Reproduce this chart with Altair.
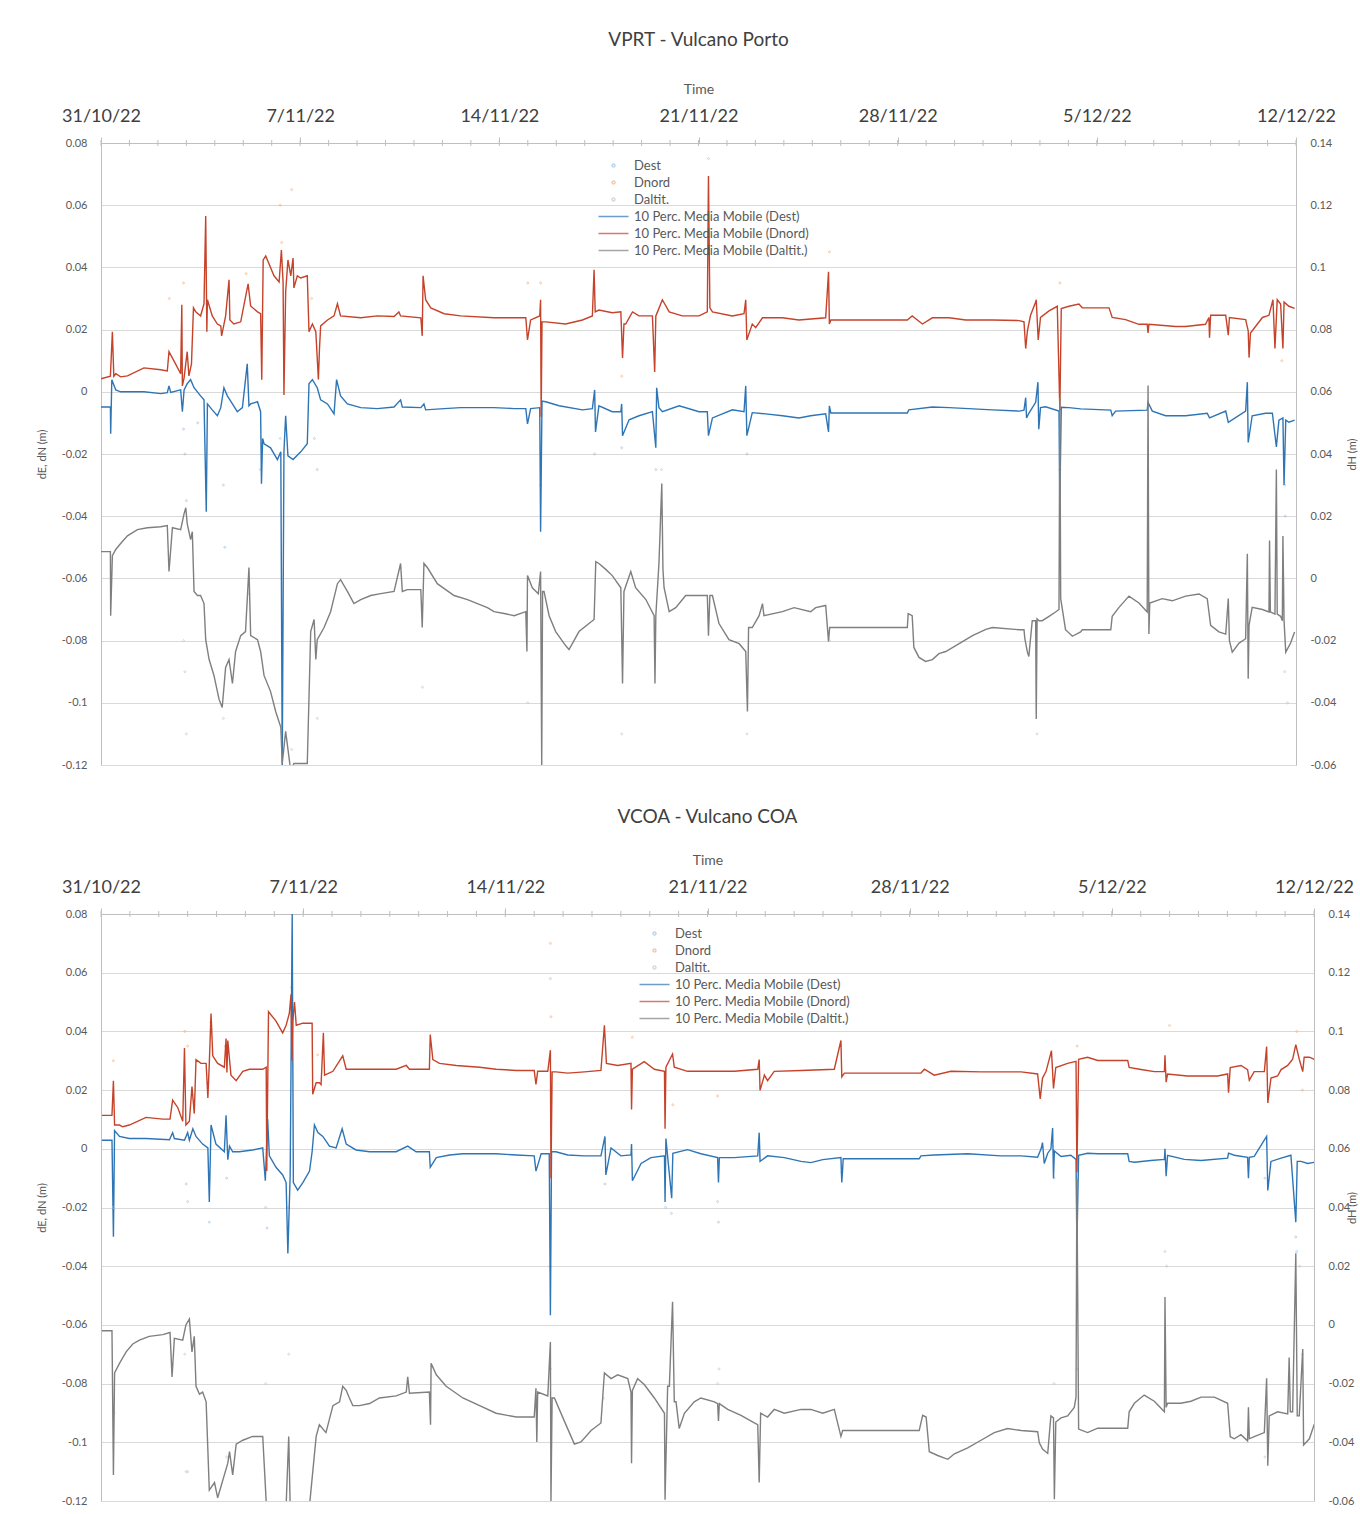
import altair as alt
import pandas as pd

FONT = "Lato"
START = "2022-10-31"

SERIES = ["Dest", "Dnord", "Daltit.",
          "10 Perc. Media Mobile (Dest)", "10 Perc. Media Mobile (Dnord)",
          "10 Perc. Media Mobile (Daltit.)"]
COLORS = ["#9DC3E6", "#F4B183", "#C9C9C9", "#2E75B6", "#C5432A", "#7F7F7F"]
DOT = "M-0.2,0A0.2,0.2,0,1,1,0.2,0A0.2,0.2,0,1,1,-0.2,0Z"
DASH = "M-2,0L2,0"
SHAPES = [DOT, DOT, DOT, DASH, DASH, DASH]

LEFT_TICKS = [-0.12, -0.1, -0.08, -0.06, -0.04, -0.02, 0, 0.02, 0.04, 0.06, 0.08]
RIGHT_TICKS = [-0.06, -0.04, -0.02, 0, 0.02, 0.04, 0.06, 0.08, 0.1, 0.12, 0.14]
WEEKS = [(2022, 10, 31), (2022, 11, 7), (2022, 11, 14), (2022, 11, 21),
         (2022, 11, 28), (2022, 12, 5), (2022, 12, 12)]

# ---------------- VPRT - Vulcano Porto (day offset from 31/10/22, value) --------------
p1_dest = [(0,-0.0049),(0.33,-0.0049),(0.34,-0.0135),(0.38,0.0039),(0.52,0.0006),(0.69,0.0),(1.51,0.0),(2.10,-0.0006),(2.33,-0.0003),(2.39,0.0019),(2.45,-0.0002),(2.80,0.0006),(2.86,-0.0064),(2.92,0.0006),(3.03,0.0026),(3.15,0.0039),(3.27,0.0013),(3.50,-0.0013),(3.62,-0.0026),(3.70,-0.0386),(3.74,-0.0039),(3.91,-0.0058),(4.09,-0.0077),(4.21,-0.0051),(4.32,0.0013),(4.44,-0.0013),(4.62,-0.0039),(4.79,-0.0064),(4.97,-0.0051),(5.14,0.009),(5.20,-0.0045),(5.26,-0.0039),(5.50,-0.0032),(5.61,-0.0064),(5.64,-0.0296),(5.68,-0.0150),(5.73,-0.0167),(5.96,-0.018),(6.20,-0.0218),(6.32,-0.0193),(6.37,-0.12),(6.43,-0.0193),(6.49,-0.0077),(6.57,-0.0206),(6.75,-0.0218),(7.02,-0.0193),(7.25,-0.0167),(7.31,0.0026),(7.43,0.0039),(7.60,0.0013),(7.72,-0.0026),(7.96,-0.0039),(8.19,-0.0071),(8.28,0.0039),(8.42,-0.0013),(8.66,-0.0039),(9.13,-0.0051),(9.71,-0.0054),(10.30,-0.0049),(10.53,-0.0026),(10.59,-0.0049),(11.24,-0.0051),(11.35,-0.0039),(11.41,-0.0058),(12.06,-0.0054),(12.64,-0.0051),(13.81,-0.0051),(14.52,-0.0054),
           (14.93,-0.0054),(14.99,-0.0103),(15.10,-0.0054),(15.42,-0.0051),(15.45,-0.045),(15.50,-0.0030),(15.63,-0.0032),(16.10,-0.0045),(16.92,-0.0058),(17.27,-0.0054),(17.35,0.0006),(17.38,-0.0129),(17.50,-0.0045),(17.97,-0.0064),(18.27,-0.0064),(18.30,-0.0039),(18.33,-0.0141),(18.56,-0.009),(18.91,-0.0077),(19.38,-0.0064),(19.50,-0.018),(19.53,0.0013),(19.61,-0.0051),(19.73,-0.0064),(20.32,-0.0045),(21.02,-0.0064),(21.31,-0.0064),(21.35,-0.0141),(21.49,-0.0084),(22.19,-0.0058),(22.60,-0.0064),(22.66,0.0019),(22.70,-0.0141),(22.89,-0.0067),(23.36,-0.0071),(23.95,-0.0077),(24.53,-0.0084),(24.94,-0.0077),(25.47,-0.0071),(25.57,-0.0129),(25.60,-0.0045),(25.65,-0.0068),(28.34,-0.0068),(28.39,-0.0058),(29.22,-0.0049),(29.81,-0.0051),(31.33,-0.0058),(32.27,-0.0062),
           (32.44,-0.0059),(32.50,-0.0019),(32.53,-0.0084),(32.61,-0.0069),(32.85,-0.0034),(32.93,0.0031),(32.96,-0.012),(33.02,-0.0051),(33.20,-0.0048),(33.67,-0.0062),(33.70,-0.035),(33.75,-0.005),(34.02,-0.0051),(34.43,-0.0055),(35.49,-0.0059),(35.54,-0.0077),(35.66,-0.0062),(36.77,-0.0059),(36.80,-0.0034),(36.95,-0.0062),(37.42,-0.0077),(38.12,-0.0077),(38.88,-0.0069),(38.96,-0.0084),(39.53,-0.0062),(39.62,-0.0098),(40.23,-0.0062),(40.29,0.0031),(40.32,-0.0163),(40.46,-0.0077),(40.93,-0.0069),(41.17,-0.0069),(41.31,-0.0177),(41.40,-0.0091),(41.54,-0.0084),(41.58,-0.030),(41.64,-0.0091),(41.75,-0.0098),(41.95,-0.0091)]

p1_nord = [(0,0.0042),(0.33,0.005),(0.40,0.0193),(0.45,0.005),(0.52,0.0058),(0.69,0.0048),(0.93,0.0051),(1.51,0.0077),(2.10,0.0071),(2.33,0.0067),(2.39,0.0129),(2.62,0.009),(2.80,0.0058),(2.84,0.028),(2.86,0.0019),(2.92,0.0045),(3.03,0.0129),(3.09,0.0051),(3.18,0.009),(3.25,0.027),(3.33,0.0257),(3.50,0.0244),(3.62,0.0283),(3.68,0.0565),(3.72,0.0193),(3.74,0.0296),(3.91,0.0244),(4.09,0.0218),(4.21,0.0212),(4.24,0.018),(4.38,0.0244),(4.50,0.036),(4.53,0.0231),(4.67,0.0218),(4.91,0.0225),(5.17,0.0347),(5.26,0.0276),(5.50,0.0257),(5.61,0.0251),(5.65,0.0039),(5.70,0.0424),(5.79,0.0437),(6.08,0.0373),(6.26,0.0353),(6.34,0.0456),(6.40,0.0353),(6.43,-0.001),(6.49,0.0321),(6.57,0.0424),(6.67,0.0373),(6.75,0.043),(6.78,0.0334),(6.90,0.0373),(7.02,0.0366),(7.25,0.0373),(7.31,0.0193),(7.43,0.0218),(7.55,0.0193),(7.64,0.004),(7.68,0.0141),(7.72,0.0212),(7.96,0.0231),(8.19,0.0244),(8.31,0.0283),(8.42,0.0244),(9.13,0.0238),(9.71,0.0244),(10.30,0.0242),(10.47,0.0257),(10.53,0.0244),(11.24,0.0238),(11.29,0.0180),(11.32,0.0373),(11.41,0.0296),(11.59,0.027),(12.06,0.0251),(12.64,0.0244),(13.81,0.0238),(14.52,0.0238),
           (14.93,0.0238),(14.99,0.0167),(15.10,0.0231),(15.42,0.0244),(15.45,0.0296),(15.47,-0.008),(15.50,0.0225),(15.63,0.0225),(16.33,0.0218),(16.92,0.0231),(17.27,0.0244),(17.33,0.0392),(17.37,0.0257),(17.50,0.0263),(17.97,0.0254),(18.27,0.0257),(18.33,0.0109),(18.38,0.0218),(18.44,0.0218),(18.68,0.0257),(18.91,0.0244),(19.38,0.0244),(19.46,0.0064),(19.50,0.0244),(19.56,0.0257),(19.73,0.0296),(19.97,0.0257),(20.43,0.0244),(21.02,0.0244),(21.31,0.0257),(21.35,0.0694),(21.40,0.0270),(21.49,0.0257),(22.19,0.0244),(22.60,0.0251),(22.66,0.0296),(22.70,0.0167),(22.89,0.0218),(23.01,0.0206),(23.25,0.0238),(23.95,0.0238),(24.53,0.0231),(25.47,0.0238),(25.57,0.0386),(25.60,0.0218),(25.65,0.0231),(28.34,0.0231),(28.51,0.0244),(28.87,0.0218),(29.22,0.0238),(29.81,0.0238),(30.39,0.0231),(31.33,0.0231),(32.27,0.0229),
           (32.44,0.0225),(32.50,0.0139),(32.56,0.0196),(32.67,0.0246),(32.85,0.0289),(32.87,0.0296),(32.94,0.0167),(33.02,0.0239),(33.32,0.026),(33.61,0.0275),(33.70,-0.006),(33.75,0.0268),(34.02,0.0275),(34.37,0.0282),(34.49,0.027),(35.43,0.027),(35.54,0.0239),(36.01,0.0232),(36.48,0.0217),(36.77,0.0217),(36.80,0.0189),(36.83,0.0217),(37.77,0.021),(38.12,0.021),(38.82,0.0217),(38.94,0.0239),(38.96,0.0174),(39.00,0.0246),(39.53,0.0246),(39.62,0.0182),(39.66,0.0239),(40.23,0.0232),(40.32,0.0196),(40.35,0.011),(40.40,0.0189),(40.82,0.0239),(41.05,0.0246),(41.19,0.0296),(41.26,0.0139),(41.34,0.0296),(41.46,0.0282),(41.54,0.0139),(41.58,0.0289),(41.75,0.0275),(41.95,0.0268)]

p1_alt = [(0,0.0086),(0.33,0.0086),(0.34,-0.012),(0.40,0.0073),(0.52,0.0093),(0.69,0.0112),(0.93,0.0137),(1.28,0.0157),(1.63,0.0163),(2.10,0.0166),(2.33,0.017),(2.39,0.0022),(2.51,0.0163),(2.80,0.0157),(2.92,0.0208),(2.98,0.0227),(3.03,0.0176),(3.15,0.0125),(3.21,0.015),(3.27,-0.0042),(3.39,-0.0055),(3.50,-0.0055),(3.62,-0.0081),(3.68,-0.0197),(3.80,-0.0261),(3.97,-0.0312),(4.15,-0.0389),(4.26,-0.0415),(4.38,-0.0286),(4.50,-0.0261),(4.62,-0.0338),(4.73,-0.0235),(4.91,-0.0184),(5.08,-0.0171),(5.20,0.0035),(5.26,-0.0184),(5.50,-0.0197),(5.61,-0.0235),(5.73,-0.0312),(5.96,-0.0364),(6.14,-0.0428),(6.32,-0.0479),(6.37,-0.0595),(6.49,-0.0492),(6.67,-0.062),(6.78,-0.0595),(7.25,-0.0595),(7.37,-0.0171),(7.49,-0.0132),(7.55,-0.0261),(7.60,-0.0197),(7.84,-0.0158),(8.07,-0.0107),(8.31,-0.0017),(8.42,-0.0004),(8.66,-0.0042),(8.89,-0.0081),(9.13,-0.0068),(9.48,-0.0055),(9.83,-0.0049),(10.30,-0.0042),(10.53,0.0048),(10.59,-0.0042),(10.77,-0.0036),(11.24,-0.0036),(11.29,-0.0158),(11.35,0.0048),(11.47,0.0035),(11.82,-0.0017),(12.41,-0.0055),(12.88,-0.0068),(13.23,-0.0081),(13.58,-0.0094),(13.81,-0.0107),(14.17,-0.0113),(14.52,-0.012),
          (14.93,-0.0107),(14.97,-0.0235),(14.99,0.0009),(15.16,-0.003),(15.37,-0.0049),(15.45,0.0022),(15.49,-0.06),(15.52,-0.0042),(15.57,-0.0042),(15.75,-0.012),(15.98,-0.0171),(16.33,-0.0216),(16.45,-0.0229),(16.80,-0.0171),(17.15,-0.0145),(17.33,-0.0132),(17.39,0.0054),(17.50,0.0048),(17.74,0.0029),(17.97,0.0009),(18.27,-0.003),(18.33,-0.0338),(18.38,-0.0042),(18.62,0.0022),(18.79,-0.003),(19.15,-0.0068),(19.44,-0.012),(19.47,-0.0338),(19.50,-0.012),(19.61,0.0048),(19.71,0.0305),(19.75,0.0030),(19.79,-0.003),(19.97,-0.0107),(20.20,-0.0094),(20.55,-0.0055),(21.31,-0.0055),(21.35,-0.0184),(21.40,-0.0055),(21.49,-0.0055),(21.72,-0.0145),(22.07,-0.0197),(22.43,-0.021),(22.66,-0.0235),(22.72,-0.0428),(22.76,-0.0158),(22.89,-0.0158),(23.13,-0.012),(23.25,-0.0081),(23.30,-0.012),(23.95,-0.0107),(24.36,-0.0094),(24.94,-0.0107),(25.12,-0.0094),(25.47,-0.0087),(25.57,-0.0203),(25.61,-0.0158),(28.34,-0.0158),(28.37,-0.0113),(28.51,-0.012),(28.57,-0.0222),(28.75,-0.0254),(28.98,-0.0267),(29.22,-0.0261),(29.45,-0.0242),(29.69,-0.0235),(30.16,-0.021),(30.63,-0.0184),(31.10,-0.0164),(31.33,-0.0158),(32.27,-0.0165),
          (32.44,-0.0165),(32.47,-0.0194),(32.56,-0.0237),(32.61,-0.0251),(32.73,-0.0136),(32.85,-0.0136),(32.87,-0.0452),(32.90,-0.0130),(32.97,-0.0136),(33.08,-0.0136),(33.32,-0.0122),(33.55,-0.0108),(33.67,-0.01),(33.70,0.058),(33.73,-0.0065),(33.90,-0.0165),(34.14,-0.0186),(34.43,-0.0172),(34.49,-0.0165),(35.49,-0.0165),(35.54,-0.0122),(35.78,-0.0093),(36.13,-0.0057),(36.48,-0.0079),(36.77,-0.0108),(36.80,0.062),(36.83,-0.0179),(36.86,-0.0079),(37.30,-0.0065),(37.65,-0.0072),(38.12,-0.0057),(38.59,-0.005),(38.88,-0.0065),(39.00,-0.0151),(39.29,-0.0172),(39.53,-0.0179),(39.62,-0.0065),(39.66,-0.0200),(39.76,-0.0237),(40.0,-0.0208),(40.23,-0.0194),(40.29,0.0079),(40.32,-0.0323),(40.35,-0.0150),(40.46,-0.0093),(40.82,-0.01),(41.05,-0.0108),(41.07,0.0122),(41.10,-0.0108),(41.26,-0.0115),(41.31,0.035),(41.34,-0.0115),(41.46,-0.0122),(41.52,-0.0136),(41.54,0.0136),(41.58,-0.0136),(41.64,-0.0237),(41.81,-0.0208),(41.95,-0.0172)]

p1_dest_pts = [(2.9,-0.012),(2.95,-0.02),(3.0,-0.035),(3.4,-0.01),(4.3,-0.03),(4.35,-0.05),(5.6,-0.025),(7.5,-0.015),(7.6,-0.025),(15.45,-0.03),(17.35,-0.02),(18.3,-0.018),(19.5,-0.025),(22.7,-0.02),(33.7,-0.025),(41.6,-0.03),(41.62,-0.04)]
p1_nord_pts = [(2.4,0.03),(2.9,0.035),(5.1,0.038),(6.3,0.06),(6.35,0.048),(6.7,0.065),(7.4,0.03),(15.0,0.035),(15.45,0.035),(18.3,0.005),(21.35,0.075),(25.6,0.045),(33.7,0.035),(41.5,0.01)]
p1_alt_pts = [(2.9,-0.02),(2.95,-0.03),(3.0,-0.05),(4.3,-0.045),(5.2,-0.005),(6.3,0.045),(6.7,-0.055),(7.6,-0.045),(11.3,-0.035),(15.0,-0.04),(18.3,-0.05),(19.7,0.035),(22.7,-0.05),(25.6,-0.02),(32.9,-0.05),(41.6,-0.03),(41.7,-0.04)]

# ---------------- VCOA - Vulcano COA --------------
p2_dest = [(0.03,0.0029),(0.38,0.0029),(0.43,-0.030),(0.47,0.0062),(0.64,0.0042),(0.98,0.0035),(1.56,0.0035),(2.37,0.0031),(2.48,0.0055),(2.54,0.0035),(2.89,0.0029),(3.00,0.0055),(3.06,0.0029),(3.18,0.0068),(3.29,0.0042),(3.52,0.0016),(3.70,0.0003),(3.75,-0.0181),(3.81,0.0081),(3.98,0.0016),(4.27,-0.001),(4.33,0.0114),(4.39,-0.0037),(4.45,0.0009),(4.56,-0.001),(4.79,-0.001),(5.25,-0.0004),(5.60,0.0003),(5.69,-0.0109),(5.77,0.0101),(5.83,-0.0024),(6.06,-0.0063),(6.29,-0.0089),(6.41,-0.0115),(6.47,-0.0357),(6.55,-0.009),(6.62,0.08),(6.66,-0.0115),(6.81,-0.0141),(6.99,-0.0115),(7.22,-0.0076),(7.31,-0.001),(7.39,0.0081),(7.51,0.0055),(7.68,0.0042),(7.91,0.0009),(8.14,0.0003),(8.35,0.0068),(8.49,0.0016),(8.83,-0.0004),(9.30,-0.001),(10.22,-0.001),(10.62,0.0009),(10.91,-0.001),(11.37,-0.001),(11.40,-0.0063),(11.61,-0.003),(12.07,-0.0021),(12.53,-0.0017),(13.68,-0.0017),(14.38,-0.0021),
           (15.00,-0.0024),(15.06,-0.0076),(15.18,-0.0037),(15.24,-0.0017),(15.52,-0.0017),(15.56,-0.0567),(15.60,-0.0010),(15.75,-0.001),(16.16,-0.0021),(16.74,-0.0024),(17.31,-0.0024),(17.45,0.0042),(17.48,-0.0089),(17.66,0.0003),(18.0,-0.0024),(18.35,-0.0021),(18.37,0.0016),(18.40,-0.0109),(18.70,-0.0050),(19.04,-0.003),(19.51,-0.0024),(19.53,-0.0181),(19.56,0.0035),(19.76,-0.0168),(19.80,-0.0015),(20.31,-0.0003),(20.77,-0.0017),(21.35,-0.003),(21.38,-0.0115),(21.41,-0.003),(21.93,-0.003),(22.74,-0.0024),(22.79,0.0055),(22.82,-0.0043),(23.08,-0.0024),(23.66,-0.003),(24.24,-0.0043),(24.58,-0.0047),(24.99,-0.0037),(25.62,-0.003),(25.65,-0.0115),(25.70,-0.0034),(28.33,-0.0034),(28.39,-0.0024),(28.85,-0.0021),(30.01,-0.0017),(31.16,-0.0024),(31.86,-0.0024),
           (32.43,-0.0029),(32.55,0.0),(32.60,0.0021),(32.66,-0.0050),(32.78,-0.0015),(32.89,0.0),(32.95,0.0071),(32.98,-0.0100),(33.01,-0.0007),(33.24,-0.0026),(33.58,-0.0022),(33.76,-0.0036),(33.79,-0.0327),(33.85,-0.0022),(34.16,-0.0015),(34.51,-0.0017),(35.55,-0.0017),(35.60,-0.0043),(35.78,-0.0046),(36.35,-0.004),(36.82,-0.0036),(36.84,0.0),(36.88,-0.0093),(36.93,-0.0022),(37.51,-0.0036),(38.09,-0.004),(39.01,-0.0032),(39.04,-0.0015),(39.24,-0.0022),(39.70,-0.0029),(39.73,-0.01),(39.76,-0.0029),(39.93,-0.0026),(40.36,0.0042),(40.40,-0.0142),(40.51,-0.0043),(40.86,-0.0032),(41.20,-0.0022),(41.37,-0.025),(41.42,-0.0043),(41.55,-0.0043),(41.78,-0.005),(42.01,-0.0046)]

p2_nord = [(0.03,0.0114),(0.38,0.0114),(0.43,0.0232),(0.47,0.0081),(0.64,0.0081),(0.75,0.0075),(0.98,0.0081),(1.56,0.0107),(2.14,0.0101),(2.39,0.0101),(2.48,0.0166),(2.66,0.014),(2.83,0.0094),(2.89,0.0343),(2.94,0.0081),(3.06,0.0094),(3.15,0.0212),(3.23,0.012),(3.29,0.0304),(3.46,0.0291),(3.64,0.0291),(3.70,0.0173),(3.75,0.0291),(3.81,0.0461),(3.87,0.0317),(4.04,0.0291),(4.27,0.0278),(4.33,0.0376),(4.36,0.026),(4.39,0.0369),(4.50,0.0251),(4.68,0.0232),(4.91,0.0264),(5.14,0.0271),(5.60,0.0271),(5.72,0.0278),(5.74,-0.0076),(5.80,0.0467),(6.06,0.0435),(6.29,0.0395),(6.41,0.0421),(6.52,0.0461),(6.58,0.0526),(6.61,0.030),(6.64,0.0435),(6.70,0.05),(6.76,0.0421),(6.99,0.0428),(7.31,0.0428),(7.33,0.0186),(7.45,0.0225),(7.56,0.0225),(7.62,0.0219),(7.70,0.0395),(7.74,0.0251),(8.03,0.0264),(8.37,0.0317),(8.49,0.0271),(9.06,0.0271),(9.64,0.0271),(10.22,0.0271),(10.57,0.0284),(10.68,0.0271),(11.37,0.0271),(11.40,0.0389),(11.49,0.0304),(11.72,0.0291),(12.30,0.0284),(13.11,0.0278),(13.68,0.0271),(14.38,0.0267),
           (15.00,0.0267),(15.06,0.0219),(15.12,0.0264),(15.47,0.0264),(15.56,0.0336),(15.58,-0.010),(15.62,0.0262),(15.75,0.0262),(16.16,0.0258),(16.74,0.0262),(17.31,0.0267),(17.43,0.0421),(17.50,0.0291),(17.89,0.0284),(18.35,0.0291),(18.37,0.0134),(18.40,0.0271),(18.81,0.0297),(19.16,0.0271),(19.51,0.0264),(19.53,0.0068),(19.56,0.0278),(19.79,0.0323),(19.85,0.0278),(20.31,0.0264),(21.24,0.0264),(21.93,0.0264),(22.74,0.0271),(22.79,0.0304),(22.82,0.0199),(22.97,0.0251),(23.08,0.0232),(23.31,0.0264),(24.24,0.0267),(25.39,0.0271),(25.62,0.0369),(25.65,0.0245),(25.74,0.0258),(28.39,0.0258),(28.51,0.0271),(28.85,0.0251),(29.43,0.0264),(30.47,0.0262),(31.39,0.0262),(31.86,0.0262),
           (32.43,0.0255),(32.52,0.017),(32.60,0.0241),(32.72,0.0263),(32.91,0.0334),(32.98,0.0206),(33.06,0.0277),(33.47,0.0291),(33.76,0.0298),(33.79,-0.008),(33.85,0.0305),(34.16,0.0312),(34.51,0.0301),(35.55,0.0301),(35.60,0.0277),(36.01,0.027),(36.47,0.0263),(36.82,0.0263),(36.84,0.0319),(36.88,0.0227),(36.93,0.0255),(37.62,0.0248),(38.09,0.0248),(38.66,0.0248),(39.01,0.0255),(39.04,0.0191),(39.10,0.0277),(39.47,0.0284),(39.70,0.027),(39.76,0.0234),(39.93,0.0263),(40.28,0.0263),(40.36,0.0348),(40.40,0.0156),(40.51,0.0241),(40.74,0.0248),(40.86,0.027),(41.09,0.0284),(41.26,0.0305),(41.37,0.0355),(41.49,0.0305),(41.61,0.0263),(41.66,0.0312),(41.84,0.0312),(42.01,0.0305)]

p2_alt = [(0.03,-0.002),(0.38,-0.002),(0.43,-0.0511),(0.47,-0.0164),(0.64,-0.0131),(0.87,-0.0092),(1.10,-0.0065),(1.33,-0.0052),(1.67,-0.0039),(2.14,-0.0033),(2.39,-0.0026),(2.46,-0.0177),(2.54,-0.0046),(2.83,-0.0052),(2.94,0.0),(3.06,0.002),(3.15,-0.0092),(3.23,-0.0039),(3.29,-0.0209),(3.41,-0.0236),(3.52,-0.0229),(3.64,-0.0262),(3.75,-0.0563),(3.93,-0.0537),(4.04,-0.0589),(4.39,-0.0471),(4.45,-0.0432),(4.56,-0.0511),(4.68,-0.0406),(4.91,-0.0393),(5.25,-0.038),(5.60,-0.038),(5.72,-0.0602),(5.77,-0.0615),(6.06,-0.0615),(6.41,-0.0615),(6.50,-0.038),(6.55,-0.0615),(7.22,-0.0615),(7.45,-0.038),(7.56,-0.034),(7.79,-0.0367),(8.03,-0.0275),(8.26,-0.0262),(8.37,-0.0209),(8.49,-0.0223),(8.60,-0.0249),(8.72,-0.0275),(8.95,-0.0275),(9.30,-0.0268),(9.64,-0.0249),(10.22,-0.0242),(10.57,-0.0229),(10.62,-0.0177),(10.68,-0.0233),(11.37,-0.0229),(11.41,-0.034),(11.43,-0.0131),(11.61,-0.017),(11.95,-0.0209),(12.53,-0.0249),(13.11,-0.0275),(13.68,-0.0301),(14.38,-0.0314),
          (15.00,-0.0314),(15.06,-0.0216),(15.09,-0.0399),(15.12,-0.0229),(15.47,-0.0242),(15.56,-0.0058),(15.58,-0.0602),(15.62,-0.0249),(15.70,-0.0249),(16.04,-0.0327),(16.39,-0.0406),(16.62,-0.0399),(16.97,-0.036),(17.31,-0.0334),(17.43,-0.0164),(17.66,-0.0183),(17.89,-0.017),(18.24,-0.0183),(18.35,-0.0229),(18.37,-0.0471),(18.40,-0.0223),(18.58,-0.0183),(18.81,-0.0203),(19.16,-0.0249),(19.51,-0.0301),(19.53,-0.0596),(19.62,-0.0209),(19.68,-0.0209),(19.79,0.0079),(19.85,-0.0262),(19.91,-0.0262),(20.02,-0.0353),(20.20,-0.0301),(20.54,-0.0262),(20.77,-0.0249),(21.24,-0.0262),(21.35,-0.0268),(21.38,-0.0327),(21.41,-0.0268),(21.70,-0.0288),(22.16,-0.0308),(22.62,-0.0334),(22.74,-0.034),(22.79,-0.0537),(22.84,-0.0301),(23.08,-0.0314),(23.31,-0.0288),(23.66,-0.0301),(24.24,-0.0288),(24.58,-0.0288),(24.99,-0.0301),(25.39,-0.0288),(25.62,-0.038),(25.68,-0.036),(28.33,-0.036),(28.45,-0.0308),(28.57,-0.0314),(28.68,-0.0432),(28.97,-0.0445),(29.32,-0.0458),(29.55,-0.0439),(30.01,-0.0419),(30.47,-0.0393),(30.93,-0.0367),(31.39,-0.0353),(31.86,-0.036),
          (32.43,-0.0364),(32.49,-0.0402),(32.60,-0.0423),(32.78,-0.0438),(32.89,-0.031),(32.98,-0.0317),(33.01,-0.0594),(33.06,-0.0331),(33.24,-0.0317),(33.47,-0.031),(33.70,-0.0281),(33.76,-0.0246),(33.79,0.05),(33.85,-0.0355),(34.16,-0.0367),(34.51,-0.0352),(35.55,-0.0352),(35.60,-0.0296),(35.78,-0.0267),(36.12,-0.0239),(36.47,-0.026),(36.82,-0.0296),(36.84,0.0095),(36.88,-0.0281),(36.93,-0.0267),(37.39,-0.0267),(37.74,-0.026),(38.09,-0.0246),(38.55,-0.0246),(39.01,-0.0267),(39.10,-0.0381),(39.24,-0.0388),(39.47,-0.0374),(39.70,-0.0395),(39.73,-0.0281),(39.76,-0.0388),(39.93,-0.0381),(40.28,-0.0367),(40.36,-0.0182),(40.40,-0.048),(40.45,-0.031),(40.74,-0.0296),(41.09,-0.0303),(41.14,-0.0111),(41.18,-0.0296),(41.26,-0.0296),(41.37,0.0244),(41.42,-0.031),(41.49,-0.031),(41.61,-0.0082),(41.64,-0.0409),(41.84,-0.0388),(42.01,-0.0338)]

p2_dest_pts = [(0.43,-0.02),(2.95,-0.012),(3.0,-0.018),(3.75,-0.025),(4.35,-0.01),(5.7,-0.02),(5.75,-0.027),(6.5,-0.02),(15.55,-0.04),(17.45,-0.012),(19.55,-0.02),(19.75,-0.022),(21.35,-0.018),(21.38,-0.025),(25.65,-0.008),(33.0,-0.01),(40.3,-0.01),(41.37,-0.03),(41.4,-0.035)]
p2_nord_pts = [(0.43,0.03),(2.9,0.04),(3.0,0.035),(3.8,0.043),(4.3,0.035),(6.6,0.055),(7.5,0.032),(15.56,0.07),(15.56,0.058),(15.58,0.045),(18.4,0.038),(19.8,0.015),(21.35,0.018),(33.8,0.035),(37.0,0.042),(41.4,0.04),(41.6,0.02)]
p2_alt_pts = [(0.43,0.04),(0.45,-0.03),(2.9,-0.01),(2.95,-0.05),(3.0,-0.05),(4.35,-0.045),(5.7,-0.02),(6.5,-0.01),(15.56,-0.015),(17.4,-0.025),(21.35,-0.02),(21.4,-0.015),(33.0,-0.02),(33.8,-0.015),(36.84,0.025),(36.9,0.02),(40.3,-0.045),(41.5,0.02),(41.6,-0.01)]


def frame(pairs, col, name):
    df = pd.DataFrame(pairs, columns=["d", col])
    df["t"] = pd.Timestamp(START) + pd.to_timedelta(df["d"], unit="D")
    df["serie"] = name
    return df[["t", col, "serie"]]


def dt(y, m, d):
    return alt.DateTime(year=y, month=m, date=d)


WEEK_VALUES = [dt(*w) for w in WEEKS]
DAY_TICKS = pd.DataFrame({"t": pd.date_range("2022-10-31", "2022-12-12", freq="D")})

LABEL_EXPR = ("datum.value == 0 ? '0' : (datum.value < 0 ? '-' : '') + "
              "format(abs(datum.value), '~g')")


def panel(title, dest, nord, alth, dpts, npts, hpts, width, height,
          legx, legy, rtitle_pad, toff):
    legend = alt.Legend(title=None, orient="none", legendX=legx, legendY=legy,
                        padding=0, labelFont=FONT, labelFontSize=13,
                        labelColor="#595959", symbolSize=225, symbolStrokeWidth=1.5,
                        rowPadding=1, labelLimit=400, labelOffset=12)
    color = alt.Color("serie:N", scale=alt.Scale(domain=SERIES, range=COLORS), legend=legend)
    shape = alt.Shape("serie:N", scale=alt.Scale(domain=SERIES, range=SHAPES), legend=legend)

    x = alt.X("t:T",
              scale=alt.Scale(domain=[dt(2022, 10, 31), dt(2022, 12, 12)], nice=False),
              axis=alt.Axis(orient="top", title="Time", values=WEEK_VALUES,
                            format="%-d/%-m/%y", labelFont=FONT, labelFontSize=18,
                            labelColor="#404040", labelPadding=12, labelFlush=False,
                            labelOverlap=False, tickSize=6, tickColor="#BFBFBF",
                            domainColor="#BFBFBF", grid=False, titleFont=FONT,
                            titleFontSize=14, titleFontWeight="normal",
                            titleColor="#595959", titlePadding=11))
    yl = alt.Y("v:Q", scale=alt.Scale(domain=[-0.12, 0.08], nice=False, zero=False),
               axis=alt.Axis(title="dE, dN (m)", values=LEFT_TICKS, labelExpr=LABEL_EXPR,
                             grid=True, gridColor="#D9D9D9", ticks=False,
                             domainColor="#BFBFBF", labelFont=FONT, labelFontSize=11,
                             labelColor="#595959", labelPadding=14, titleFont=FONT,
                             titleFontSize=11, titleFontWeight="normal",
                             titleColor="#595959", titlePadding=14))
    yr = alt.Y("h:Q", scale=alt.Scale(domain=[-0.06, 0.14], nice=False, zero=False),
               axis=alt.Axis(orient="right", title="dH (m)", values=RIGHT_TICKS,
                             labelExpr=LABEL_EXPR, grid=False, ticks=False,
                             domainColor="#BFBFBF", labelFont=FONT, labelFontSize=11,
                             labelColor="#595959", labelPadding=14, titleFont=FONT,
                             titleFontSize=11, titleFontWeight="normal",
                             titleColor="#595959", titlePadding=rtitle_pad,
                             titleAngle=270))

    ticks = alt.Chart(DAY_TICKS).mark_rule(color="#BFBFBF").encode(
        x=x, y=alt.value(-3), y2=alt.value(3))
    pts_l = alt.Chart(pd.concat([frame(dpts, "v", "Dest"), frame(npts, "v", "Dnord")])).mark_point(
        size=100, strokeWidth=1, clip=True).encode(x=x, y=yl, color=color, shape=shape)
    line_d = alt.Chart(frame(dest, "v", SERIES[3])).mark_line(strokeWidth=1.4, clip=True).encode(
        x=x, y=yl, color=color)
    line_n = alt.Chart(frame(nord, "v", SERIES[4])).mark_line(strokeWidth=1.4, clip=True).encode(
        x=x, y=yl, color=color)
    pts_r = alt.Chart(frame(hpts, "h", "Daltit.")).mark_point(
        size=100, strokeWidth=1, clip=True).encode(x=x, y=yr, color=color, shape=shape)
    line_h = alt.Chart(frame(alth, "h", SERIES[5])).mark_line(strokeWidth=1.4, clip=True).encode(
        x=x, y=yr, color=color)

    left = alt.layer(ticks, pts_l, line_d, line_n)
    right = alt.layer(pts_r, line_h)
    return alt.layer(left, right).resolve_scale(y="independent").properties(
        width=width, height=height,
        title=alt.TitleParams(title, font=FONT, fontSize=19, fontWeight="normal",
                              color="#404040", anchor="middle", offset=toff))


c1 = panel("VPRT - Vulcano Porto", p1_dest, p1_nord, p1_alt,
           p1_dest_pts, p1_nord_pts, p1_alt_pts, 1195, 622, 504, 14, 22, 32)
c2 = panel("VCOA - Vulcano COA", p2_dest, p2_nord, p2_alt,
           p2_dest_pts, p2_nord_pts, p2_alt_pts, 1213, 587, 545, 11, 4, 26)

chart = alt.vconcat(c1, c2, spacing=38).resolve_scale(
    color="independent", shape="independent"
).properties(
    padding={"left": 36, "top": 31, "right": 0, "bottom": 0}
).configure(font=FONT).configure_view(strokeWidth=0)

chart.save("out.html", embed_options={"renderer": "svg", "actions": False})
